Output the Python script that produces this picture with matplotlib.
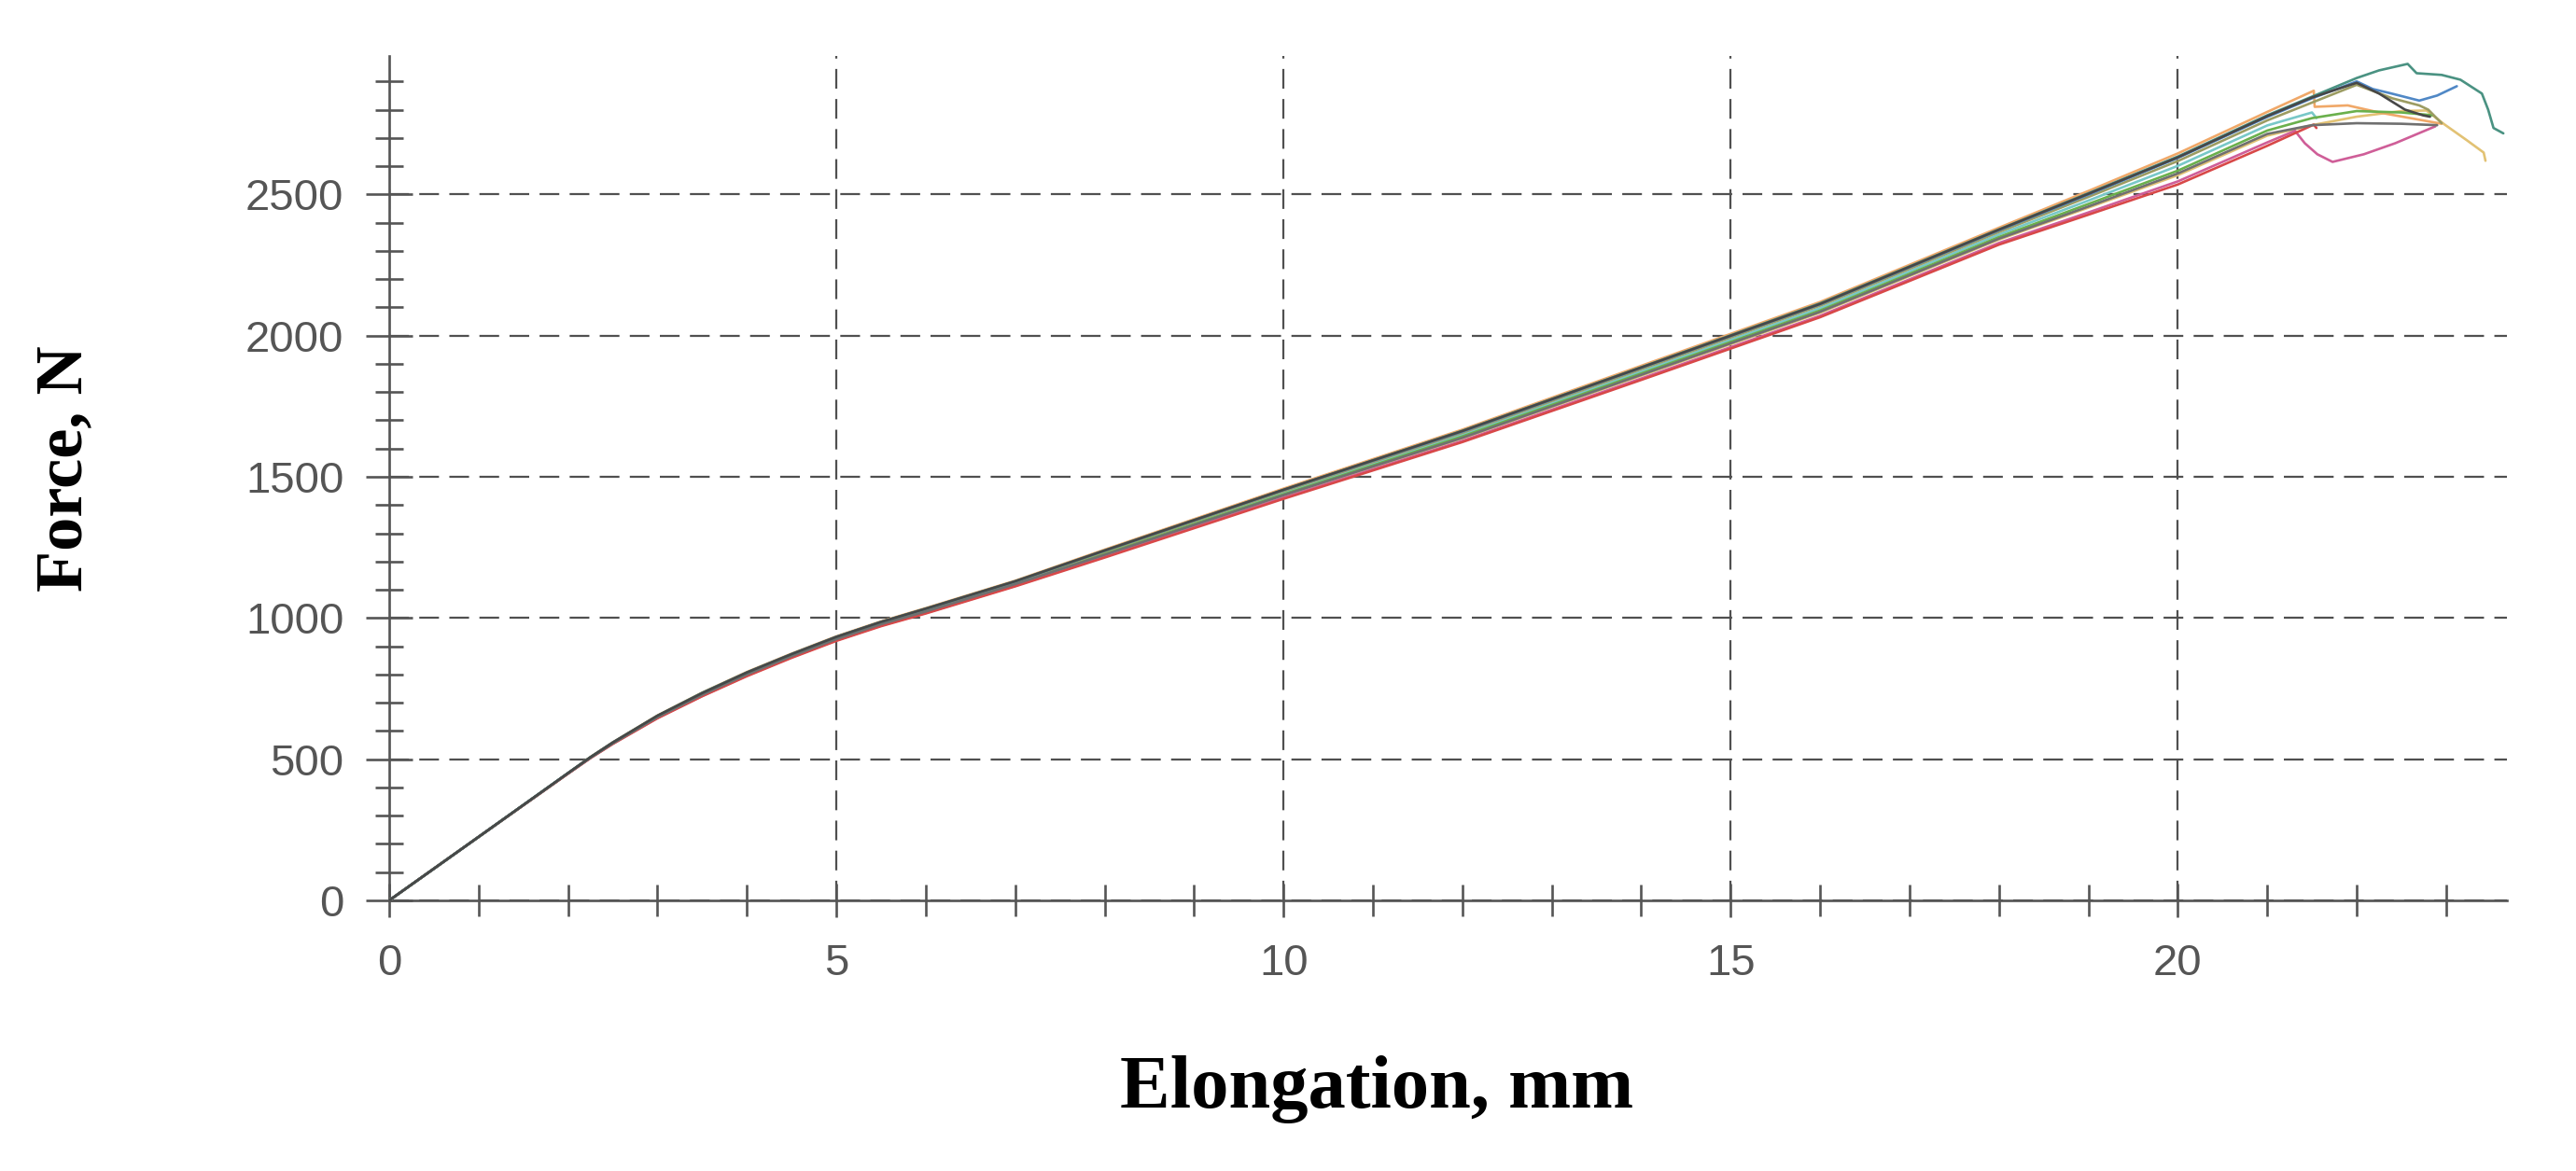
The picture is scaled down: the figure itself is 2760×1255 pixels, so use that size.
import matplotlib
matplotlib.use("Agg")
import matplotlib.pyplot as plt
from matplotlib.ticker import MultipleLocator

# ---------------- data ----------------
elong_grid = [0, 1, 2, 2.25, 2.5, 3, 3.5, 4, 4.5, 5, 5.5, 6, 7, 8, 10, 12, 14, 16, 18, 19, 20, 21]

force_orange = [0, 225, 451, 508, 560, 655, 736, 809, 874, 935, 988, 1035, 1132, 1242, 1458, 1667, 1893, 2119, 2382, 2512, 2645, 2792]
force_teal = [0, 225, 451, 507, 559, 654, 735, 807, 872, 933, 986, 1033, 1130, 1239, 1454, 1663, 1888, 2114, 2376, 2504, 2634, 2780]
force_blue = [0, 225, 451, 507, 559, 653, 734, 807, 872, 933, 986, 1032, 1129, 1238, 1453, 1660, 1886, 2111, 2373, 2499, 2629, 2774]
force_dark = [0, 225, 451, 507, 559, 654, 734, 807, 872, 933, 986, 1033, 1130, 1239, 1454, 1662, 1887, 2112, 2375, 2502, 2631, 2777]
force_olive = [0, 225, 450, 506, 558, 652, 733, 805, 870, 931, 984, 1030, 1127, 1235, 1449, 1656, 1881, 2106, 2367, 2491, 2618, 2762]
force_cyan = [0, 225, 450, 506, 557, 651, 731, 803, 868, 929, 982, 1028, 1125, 1231, 1444, 1649, 1873, 2097, 2358, 2478, 2601, 2744]
force_green = [0, 225, 450, 506, 557, 650, 729, 801, 866, 926, 979, 1025, 1122, 1227, 1438, 1643, 1866, 2089, 2349, 2466, 2584, 2726]
force_gray = [0, 225, 450, 505, 556, 649, 728, 800, 865, 925, 978, 1023, 1120, 1224, 1435, 1638, 1861, 2084, 2343, 2457, 2574, 2714]
force_tan = [0, 225, 449, 505, 556, 648, 727, 799, 864, 924, 976, 1022, 1118, 1222, 1433, 1636, 1858, 2081, 2340, 2453, 2568, 2708]
force_pink = [0, 225, 449, 504, 555, 646, 724, 796, 861, 921, 973, 1018, 1114, 1217, 1426, 1627, 1848, 2070, 2328, 2436, 2546, 2684]
force_red = [0, 225, 449, 504, 554, 645, 723, 794, 859, 919, 971, 1016, 1112, 1214, 1422, 1623, 1843, 2065, 2322, 2428, 2535, 2672]

# tails near failure
tail_x_orange = [21.52, 21.53, 21.9, 22.25, 22.6, 22.95]
tail_f_orange = [2867, 2810, 2815, 2790, 2770, 2750]
tail_x_teal = [21.5, 22.0, 22.25, 22.57, 22.67, 22.95, 23.16, 23.4, 23.47, 23.53, 23.64]
tail_f_teal = [2846, 2912, 2939, 2962, 2929, 2923, 2906, 2857, 2800, 2735, 2716]
tail_x_blue = [21.5, 22.0, 22.18, 22.39, 22.7, 22.9, 23.12]
tail_f_blue = [2840, 2900, 2873, 2857, 2832, 2850, 2883]
tail_x_dark = [21.5, 22.0, 22.25, 22.54, 22.74, 22.82]
tail_f_dark = [2843, 2895, 2857, 2800, 2780, 2775]
tail_x_olive = [21.5, 22.0, 22.4, 22.7, 22.8, 22.95]
tail_f_olive = [2825, 2888, 2840, 2815, 2800, 2752]
tail_x_cyan = [21.5, 21.55]
tail_f_cyan = [2790, 2770]
tail_x_green = [21.5, 22.0, 22.5, 22.85]
tail_f_green = [2770, 2795, 2790, 2780]
tail_x_gray = [21.5, 22.0, 22.5, 22.9]
tail_f_gray = [2745, 2752, 2750, 2745]
tail_x_tan = [21.5, 22.0, 22.5, 22.78, 22.98, 23.23, 23.42, 23.44]
tail_f_tan = [2745, 2775, 2795, 2797, 2748, 2692, 2648, 2619]
tail_x_pink = [21.31, 21.42, 21.56, 21.73, 22.08, 22.43, 22.88]
tail_f_pink = [2725, 2681, 2642, 2615, 2642, 2681, 2741]
tail_x_red = [21.52, 21.55]
tail_f_red = [2747, 2735]

x_major_ticks = [0, 5, 10, 15, 20]
y_major_ticks = [0, 500, 1000, 1500, 2000, 2500]
x_label = "Elongation, mm"
y_label = "Force, N"

# ---------------- figure ----------------
W, H = 2760, 1255
fig = plt.figure(figsize=(W / 100, H / 100), dpi=100)
ax = fig.add_axes([417 / W, 1 - 965 / H, (2686 - 417) / W, (965 - 60) / H])

series = [
    (force_cyan, tail_x_cyan, tail_f_cyan, "#78c8c8"),
    (force_tan, tail_x_tan, tail_f_tan, "#e2c274"),
    (force_orange, tail_x_orange, tail_f_orange, "#f0a868"),
    (force_green, tail_x_green, tail_f_green, "#6ab04c"),
    (force_olive, tail_x_olive, tail_f_olive, "#9c9c62"),
    (force_pink, tail_x_pink, tail_f_pink, "#cf5e98"),
    (force_red, tail_x_red, tail_f_red, "#d84848"),
    (force_blue, tail_x_blue, tail_f_blue, "#5088c6"),
    (force_gray, tail_x_gray, tail_f_gray, "#707070"),
    (force_teal, tail_x_teal, tail_f_teal, "#4a9282"),
    (force_dark, tail_x_dark, tail_f_dark, "#474747"),
]
for i, (f, tx, tf, c) in enumerate(series):
    ax.plot(elong_grid + tx, f + tf, color=c, lw=1.9, zorder=3 + i * 0.01,
            solid_joinstyle="round", solid_capstyle="round")

ax.set_xlim(0, 23.68)
ax.set_ylim(0, 2990)

axc = "#555555"
for s in ("top", "right"):
    ax.spines[s].set_visible(False)
for s in ("left", "bottom"):
    ax.spines[s].set_color(axc)
    ax.spines[s].set_linewidth(1.9)

ax.xaxis.set_major_locator(plt.FixedLocator(x_major_ticks))
ax.xaxis.set_minor_locator(MultipleLocator(1))
ax.yaxis.set_major_locator(plt.FixedLocator(y_major_ticks))
ax.yaxis.set_minor_locator(MultipleLocator(100))

ax.grid(which="major", color="#505050", linestyle=(0, (9.5, 5)), lw=1.6, zorder=1)
ax.set_axisbelow(True)

ax.tick_params(axis="x", which="major", direction="inout", length=26, width=1.9,
               color=axc, pad=20, labelsize=34, labelcolor="#555555")
ax.tick_params(axis="x", which="minor", direction="inout", length=24, width=1.9,
               color=axc)
ax.tick_params(axis="y", which="major", direction="inout", length=36, width=1.9,
               color=axc, pad=17, labelsize=34, labelcolor="#555555")
ax.tick_params(axis="y", which="minor", direction="inout", length=22, width=1.9,
               color=axc)
for lab in ax.get_xticklabels() + ax.get_yticklabels():
    lab.set_fontfamily("Liberation Sans")

fig.text(1475 / W, 1 - 1167 / H, x_label, family="Liberation Serif",
         fontweight="bold", fontsize=58, ha="center", va="center")
fig.text(70 / W, 1 - 502 / H, y_label, family="Liberation Serif",
         fontweight="bold", fontsize=52, ha="center", va="center", rotation=90)

fig.savefig("out.png", dpi=100, facecolor="white")
